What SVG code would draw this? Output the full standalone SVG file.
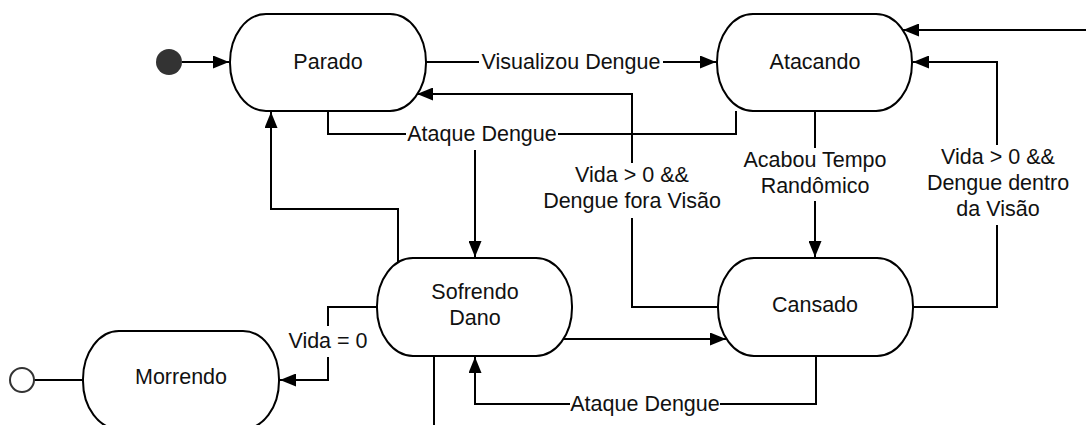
<svg xmlns="http://www.w3.org/2000/svg" width="1086" height="425" viewBox="0 0 1086 425">
<style>
.node{fill:#fff;stroke:#000;stroke-width:2}
.lbl{font-family:"Liberation Sans",Arial,sans-serif;font-size:21.5px;fill:#111;text-anchor:middle}
.edge{fill:none;stroke:#000;stroke-width:2}
</style>
<defs>
<marker id="arr" markerUnits="userSpaceOnUse" markerWidth="17" markerHeight="13" refX="16" refY="6.5" orient="auto">
<path d="M0,0 L16,6.5 L0,13 z" fill="#000"/>
</marker>
</defs>
<rect width="1086" height="425" fill="#fff"/>
<g id="connectors">
<path class="edge" d="M182,62 L229,62" marker-end="url(#arr)"/>
<path class="edge" d="M426,62 L479,62"/>
<path class="edge" d="M663,62 L716,62" marker-end="url(#arr)"/>
<path class="edge" d="M1086,30 L903,30" marker-end="url(#arr)"/>
<path class="edge" d="M718,307 L632,307 L632,218"/>
<path class="edge" d="M632,163 L632,94 L417,94" marker-end="url(#arr)"/>
<path class="edge" d="M328,111 L328,134 L406,134"/>
<path class="edge" d="M558,134 L736,134 L736,111"/>
<path class="edge" d="M475,150 L475,257" marker-end="url(#arr)"/>
<path class="edge" d="M815,111 L815,148"/>
<path class="edge" d="M815,201 L815,257" marker-end="url(#arr)"/>
<path class="edge" d="M913,307 L997,307 L997,225"/>
<path class="edge" d="M997,145 L997,62 L913,62" marker-end="url(#arr)"/>
<path class="edge" d="M398,263 L398,209 L271,209 L271,112" marker-end="url(#arr)"/>
<path class="edge" d="M377,307 L328,307 L328,326"/>
<path class="edge" d="M328,357 L328,380 L280,380" marker-end="url(#arr)"/>
<path class="edge" d="M563,339 L726,339" marker-end="url(#arr)"/>
<path class="edge" d="M816,356 L816,404 L720,404"/>
<path class="edge" d="M570,404 L475,404 L475,357" marker-end="url(#arr)"/>
<path class="edge" d="M434,356 L434,425"/>
<path class="edge" d="M34,380 L83,380"/>
<text class="lbl" x="571" y="69">Visualizou Dengue</text>
<text class="lbl" x="482" y="141">Ataque Dengue</text>
<text class="lbl" x="632" y="182">Vida &gt; 0 &amp;&amp;</text>
<text class="lbl" x="632" y="208">Dengue fora Visão</text>
<text class="lbl" x="815" y="167">Acabou Tempo</text>
<text class="lbl" x="815" y="193">Randômico</text>
<text class="lbl" x="998" y="164">Vida &gt; 0 &amp;&amp;</text>
<text class="lbl" x="998" y="190">Dengue dentro</text>
<text class="lbl" x="998" y="216">da Visão</text>
<text class="lbl" x="328" y="348">Vida = 0</text>
<text class="lbl" x="645" y="411">Ataque Dengue</text>
</g>
<g id="start"><circle cx="169" cy="62" r="13" fill="#333"/></g>
<g id="end"><circle cx="22" cy="380" r="12" fill="#fff" stroke="#333" stroke-width="2"/></g>
<g id="parado"><rect class="node" x="230" y="14" width="196" height="97" rx="36" ry="48"/><text class="lbl" x="328" y="69">Parado</text></g>
<g id="atacando"><rect class="node" x="717" y="14" width="195" height="97" rx="36" ry="48"/><text class="lbl" x="815" y="69">Atacando</text></g>
<g id="cansado"><rect class="node" x="718" y="258" width="195" height="98" rx="36" ry="48"/><text class="lbl" x="815" y="312">Cansado</text></g>
<g id="sofrendo"><rect class="node" x="377" y="258" width="195" height="98" rx="36" ry="48"/><text class="lbl" x="475" y="299">Sofrendo</text><text class="lbl" x="475" y="325">Dano</text></g>
<g id="morrendo"><rect class="node" x="83" y="331" width="196" height="98" rx="36" ry="48"/><text class="lbl" x="181" y="384">Morrendo</text></g>
</svg>
